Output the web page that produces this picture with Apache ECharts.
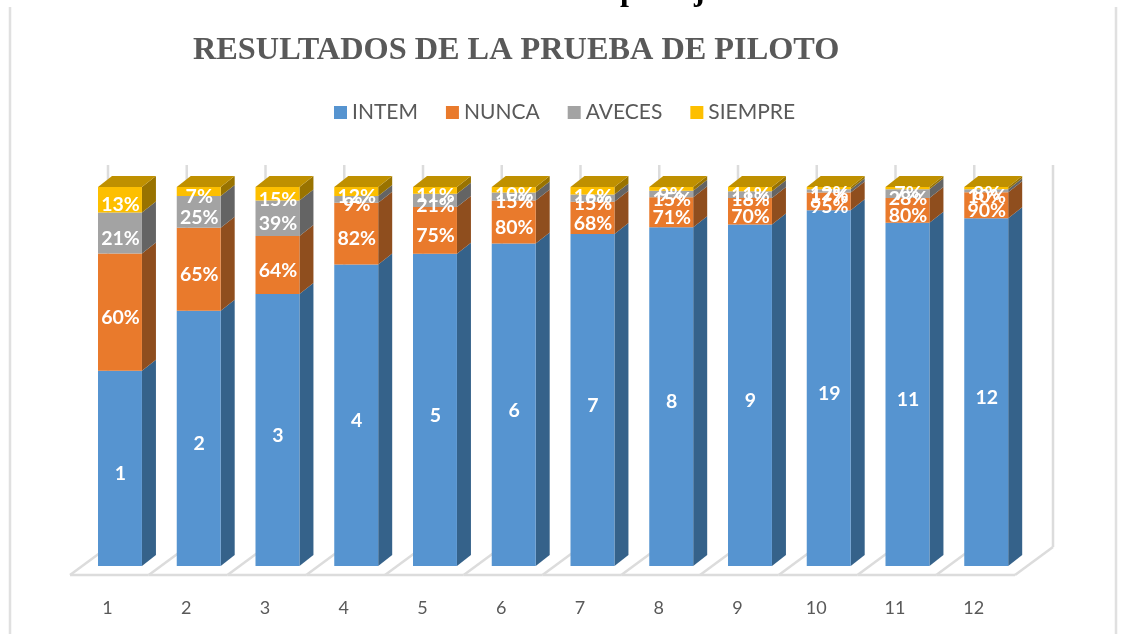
<!DOCTYPE html>
<html><head><meta charset="utf-8">
<style>html,body{margin:0;padding:0;background:#fff}#c{width:1123px;height:634px}</style>
<script src="https://cdn.jsdelivr.net/npm/echarts@6/dist/echarts.min.js"></script>
</head><body><div id="c"></div>
<script>
const categories = ['1','2','3','4','5','6','7','8','9','10','11','12'];
const intem   = [1,2,3,4,5,6,7,8,9,19,11,12];
const nunca   = [60,65,64,82,75,80,68,71,70,95,80,90];
const aveces  = [21,25,39,9,21,15,15,15,18,17,28,10];
const siempre = [13,7,15,12,11,10,16,9,11,12,7,8];
const seriesNames = ['INTEM','NUNCA','AVECES','SIEMPRE'];
const faceColors = ['#5694d0','#e97a2c','#a3a3a3','#fdbf00'];
const sideColors = ['#35628a','#8f4e1e','#646464','#997300'];
const topColor = '#bf9000';
const wallColor = '#dcdcdc';

const BAR_SHIFT = 12.6, DEPTH_X = 14, DEPTH_Y = -11;
const FLOOR_SHIFT = 2, FLOOR_FRONT = 9, FLOOR_DX = 38, FLOOR_DY = -28, WALL_TOP = 165;

const values = [intem, nunca.map(v => v/100), aveces.map(v => v/100), siempre.map(v => v/100)];
const labels = [intem.map(String), nunca.map(v => v+'%'), aveces.map(v => v+'%'), siempre.map(v => v+'%')];
const totals = categories.map((_, i) => values.reduce((s, a) => s + a[i], 0));

function stackData(k) {
  return categories.map((_, i) => {
    let lo = 0;
    for (let j = 0; j < k; j++) lo += values[j][i];
    return [i, lo / totals[i], (lo + values[k][i]) / totals[i]];
  });
}

function barItem(k) {
  return function (params, api) {
    const i = api.value(0);
    const a = api.coord([i, api.value(1)]);
    const b = api.coord([i, api.value(2)]);
    const w = api.size([1, 0])[0] * 0.558;
    const x0 = a[0] + BAR_SHIFT - w / 2, x1 = x0 + w;
    const yb = a[1], yt = b[1];
    const children = [
      {type:'polygon', z2:1, shape:{points:[[x1,yb],[x1+DEPTH_X,yb+DEPTH_Y],[x1+DEPTH_X,yt+DEPTH_Y],[x1,yt]]}, style:{fill:sideColors[k]}},
      {type:'rect', z2:2, shape:{x:x0,y:yt,width:w,height:yb-yt}, style:{fill:faceColors[k]}}
    ];
    if (k === 3) children.push({type:'polygon', z2:3, shape:{points:[[x0,yt],[x1,yt],[x1+DEPTH_X,yt+DEPTH_Y],[x0+DEPTH_X,yt+DEPTH_Y]]}, style:{fill:topColor}});
    children.push({type:'text', z2:100, style:{
      x:(x0+x1)/2+0.5, y:(yb+yt)/2+5.5, text:labels[k][params.dataIndex], align:'center', verticalAlign:'middle',
      fill:'#fff', font:'bold 19.5px Lato, "Open Sans", sans-serif'}});
    return {type:'group', children};
  };
}

function frameItem(params, api) {
  const i = api.value(0);
  const band = api.size([1, 0])[0];
  const c = api.coord([i, 0]);
  const yf = c[1] + FLOOR_FRONT, yBack = yf + FLOOR_DY;
  const edge = x => [
    {type:'line', shape:{x1:x,y1:yf,x2:x+FLOOR_DX,y2:yBack}, style:{stroke:wallColor,lineWidth:2.5}},
    {type:'line', shape:{x1:x+FLOOR_DX,y1:yBack,x2:x+FLOOR_DX,y2:WALL_TOP}, style:{stroke:wallColor,lineWidth:2.5}}
  ];
  const xl = c[0] - band/2 + FLOOR_SHIFT, xr = xl + band;
  let children = edge(xl).concat([{type:'line', shape:{x1:xl,y1:yf,x2:xr,y2:yf}, style:{stroke:wallColor,lineWidth:2.5}}]);
  if (i === categories.length - 1) children = children.concat(edge(xr));
  return {type:'group', children};
}

const chart = echarts.init(document.getElementById('c'), null, {renderer:'canvas'});
chart.setOption({
  animation:false,
  backgroundColor:'#fff',
  title:{text:'RESULTADOS DE LA PRUEBA DE PILOTO', left:188, top:30,
    textStyle:{fontFamily:'"Liberation Serif", serif', fontWeight:'bold', fontSize:32.3, color:'#595959'}},
  legend:{data:seriesNames, left:329, top:97, icon:'rect', itemWidth:13, itemHeight:13, itemGap:28,
    textStyle:{fontFamily:'Lato, "Open Sans", sans-serif', fontSize:21, color:'#595959', padding:[2,0,0,0]}},
  grid:{left:68, width:945, top:187, height:379},
  xAxis:{type:'category', data:categories, axisLine:{show:false}, axisTick:{show:false},
    axisLabel:{margin:33, color:'#595959', fontSize:18, fontFamily:'Lato, "Open Sans", sans-serif'}},
  yAxis:{type:'value', min:0, max:1, show:false},
  graphic:[
    {type:'line', silent:true, shape:{x1:10,y1:7,x2:10,y2:634}, style:{stroke:'#e0e0e0',lineWidth:2.5}},
    {type:'line', silent:true, shape:{x1:1116,y1:7,x2:1116,y2:634}, style:{stroke:'#e0e0e0',lineWidth:2.5}},
    {type:'text', silent:true, x:620, y:-24, style:{text:'p', fill:'#000', font:'bold 32px "Liberation Serif", serif'}},
    {type:'text', silent:true, x:694, y:-24, style:{text:'j', fill:'#000', font:'bold 32px "Liberation Serif", serif'}}
  ],
  series:[
    {type:'custom', name:'frame', silent:true, z:1, renderItem:frameItem, data:categories.map((_, i) => [i, 0]), encode:{x:0,y:1}}
  ].concat(seriesNames.map((name, k) => ({
    type:'custom', name, z:2, renderItem:barItem(k), data:stackData(k), encode:{x:0,y:[1,2]},
    itemStyle:{color:faceColors[k]}
  })))
});
</script></body></html>
